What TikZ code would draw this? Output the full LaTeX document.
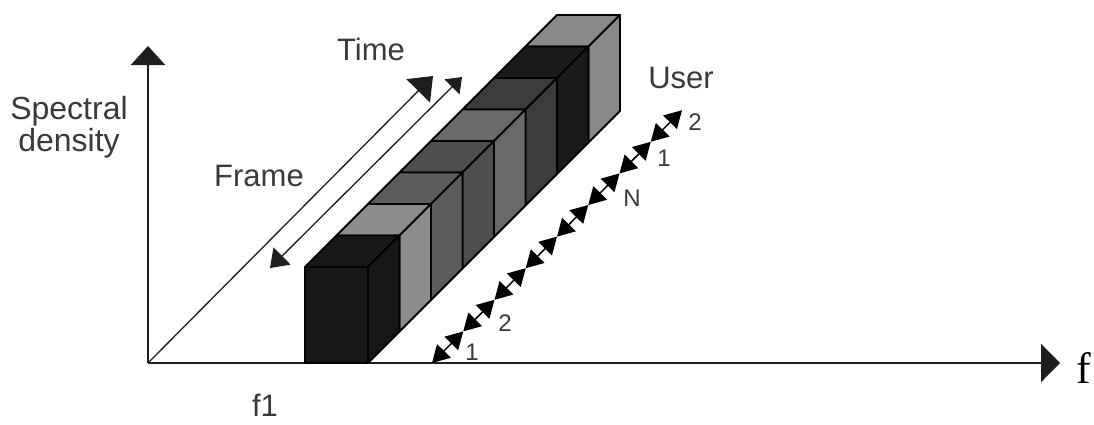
\documentclass[tikz,border=0pt]{standalone}
\usepackage{fontspec}
\setmainfont{Liberation Sans}
\newfontfamily\serifface{Liberation Serif}
\usetikzlibrary{arrows.meta}

\definecolor{ink}{HTML}{1E1E1E}
\definecolor{labelgray}{HTML}{3A3A3A}
\definecolor{blkA}{HTML}{161616}
\definecolor{blkB}{HTML}{8C8C8C}
\definecolor{blkC}{HTML}{5C5C5C}
\definecolor{blkD}{HTML}{4E4E4E}
\definecolor{blkE}{HTML}{6A6A6A}
\definecolor{blkF}{HTML}{3C3C3C}
\definecolor{blkG}{HTML}{1A1A1A}
\definecolor{blkH}{HTML}{8A8A8A}

\tikzset{
  axisline/.style={draw=ink, line width=2.6pt, line join=round},
  guide/.style={draw=ink, line width=1.3pt},
  face/.style={draw=black, line width=1.8pt, line join=round},
  seg/.style={draw=black, line width=1.5pt,
    {Triangle[length=17pt,width=19pt]}-{Triangle[length=17pt,width=19pt]}},
  biglabel/.style={text=labelgray, font=\fontsize{31}{31}\selectfont, inner sep=0pt},
  smalllabel/.style={text=labelgray, font=\fontsize{24}{24}\selectfont, inner sep=0pt},
}

\begin{document}
\begin{tikzpicture}[x=1pt, y=-1pt]
  \useasboundingbox (0,0) rectangle (1094,424);

  % axes
  \coordinate (O) at (148,363);
  \coordinate (ytip) at (148,46);
  \coordinate (xtip) at (1060,363);
  \draw[axisline, -{Triangle[length=19pt,width=34pt]}] (O) -- (ytip);
  \draw[axisline, -{Triangle[length=19pt,width=38pt]}] (O) -- (xtip);

  % time direction and frame length
  \coordinate (timetip) at (433,76);
  \coordinate (framelow) at (270,268);
  \coordinate (framehigh) at (462,77);
  \draw[guide, -{Triangle[length=21pt,width=33pt]}] (O) -- (timetip);
  \draw[guide, {Triangle[length=17pt,width=24pt]}-{Triangle[length=14pt,width=21pt]}] (framelow) -- (framehigh);

  % row of frames, painted from the back to the front
  \foreach \k/\c in {8/blkH,7/blkG,6/blkF,5/blkE,4/blkD,3/blkC,2/blkB,1/blkA} {
    \pgfmathsetmacro\o{(\k-1)*31.5}
    \filldraw[face, fill=\c] (305+\o,267-\o) rectangle ++(63,96);
    \filldraw[face, fill=\c] (305+\o,267-\o) -- ++(63,0) -- ++(31.5,-31.5) -- ++(-63,0) -- cycle;
    \filldraw[face, fill=\c] (368+\o,267-\o) -- ++(31.5,-31.5) -- ++(0,96) -- ++(-31.5,31.5) -- cycle;
  }

  % user slots along the time direction
  \foreach \i in {0,...,8} {
    \coordinate (c\i) at (432+\i*31.25, 363-\i*31.6);
  }
  \foreach \i [evaluate=\i as \j using int(\i+1)] in {0,...,7} {
    \draw[seg] (c\i) -- (c\j);
  }

  % labels
  \node[biglabel, anchor=base, font=\fontsize{32}{32}\selectfont] (spec) at (69,119) {Spectral};
  \node[biglabel, anchor=base, font=\fontsize{32}{32}\selectfont] (dens) at (69,151) {density};
  \node[biglabel, anchor=base] (time) at (371,60) {Time};
  \node[biglabel, anchor=base] (frame) at (259,186) {Frame};
  \node[biglabel, anchor=base] (user) at (681,88) {User};
  \node[biglabel, anchor=base] (fone) at (265,416) {f1};
  \node[anchor=base west, inner sep=0pt, font=\serifface\fontsize{44}{44}\selectfont] (faxis) at (1076,383) {f};

  \node[smalllabel] (u1a) at (472,352) {1};
  \node[smalllabel] (u2a) at (505,323) {2};
  \node[smalllabel] (uN) at (632,198) {N};
  \node[smalllabel] (u1b) at (664,158) {1};
  \node[smalllabel] (u2b) at (695,122) {2};
\end{tikzpicture}
\end{document}
